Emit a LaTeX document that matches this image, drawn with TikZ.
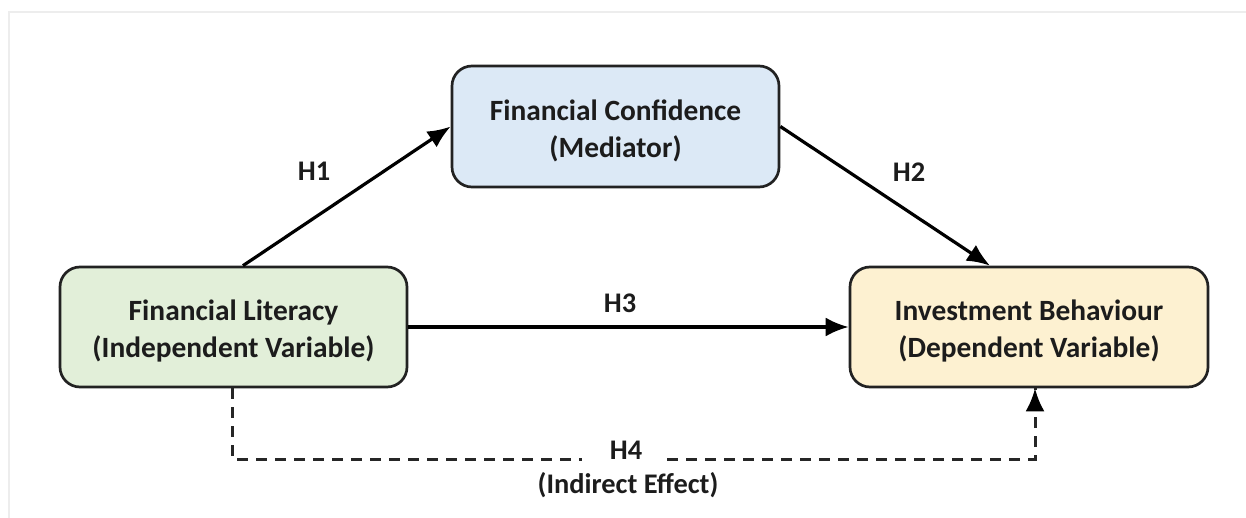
\documentclass[tikz,border=0pt]{standalone}
\usepackage{fontspec}
\setmainfont{Carlito}
\usetikzlibrary{arrows.meta,calc}
\definecolor{medfill}{HTML}{DCE9F6}
\definecolor{litfill}{HTML}{E2EFD9}
\definecolor{invfill}{HTML}{FDF1D1}
\definecolor{edgecol}{HTML}{222222}
\definecolor{txtcol}{HTML}{1C1C1C}
\newcommand{\upstrut}{\rule{0pt}{14.5pt}}
\begin{document}
\begin{tikzpicture}[x=0.5pt,y=-0.5pt,
  box/.style={draw=edgecol,line width=1.35pt,rounded corners=10pt,align=center,
    font=\fontsize{14.7}{18.5}\selectfont\bfseries,text=txtcol,inner sep=0pt},
  lbl/.style={font=\fontsize{14.2}{17}\selectfont\bfseries,text=txtcol,inner sep=0pt},
  conn/.style={draw=black,line width=1.6pt,-{Latex[length=11.5pt,width=9.5pt]}},
  dconn/.style={draw=black!85,line width=1.5pt,dash pattern=on 5.5pt off 4pt}]
\path[use as bounding box] (0,0) rectangle (1246,518);
\draw[black!7,line width=0.6pt] (9,518) -- (9,12) -- (1246,12);
\node[box,fill=medfill,minimum width=163.5pt,minimum height=60.5pt] (med) at (615.5,126.5) {\upstrut Financial Confidence\\(Mediator)};
\node[box,fill=litfill,minimum width=173.5pt,minimum height=60pt] (lit) at (233.5,327) {\upstrut Financial Literacy\\(Independent Variable)};
\node[box,fill=invfill,minimum width=179pt,minimum height=60pt] (inv) at (1029,327) {\upstrut Investment Behaviour\\(Dependent Variable)};
\draw[conn] ($(lit.north)+(9.5,0)$) -- (med.west);
\draw[conn] (med.east) -- ($(inv.north)+(-39,0)$);
\draw[conn] (lit.east) -- (inv.west);
\coordinate (c1) at (232,459);
\coordinate (g1) at (582,459);
\coordinate (g2) at (667,459);
\coordinate (c2) at (1035,459);
\draw[dconn] (lit.south -| c1) -- (c1) -- (g1);
\draw[dconn] (g2) -- (c2) -- (inv.south -| c2);
\draw[black,line width=1.5pt,-{Latex[length=11.5pt,width=9.5pt]}] ($(inv.south -| c2)+(0,18)$) -- (inv.south -| c2);
\node[lbl] (h1) at (314,171) {H1};
\node[lbl] (h2) at (909,172) {H2};
\node[lbl] (h3) at (620,303) {H3};
\node[lbl] (h4) at (626,450) {H4};
\node[lbl] (ie) at (628,485) {(Indirect Effect)};
\end{tikzpicture}
\end{document}
